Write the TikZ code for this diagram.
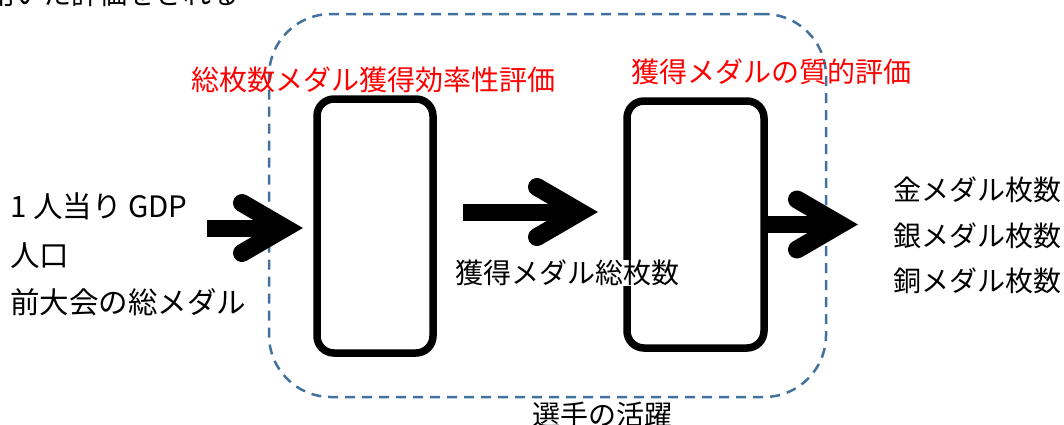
\documentclass[tikz,border=0pt]{standalone}
\usepackage{fontspec}
\setmainfont{Noto Sans CJK JP}
\usetikzlibrary{calc}
\definecolor{dashblue}{HTML}{41719C}
\tikzset{
  every node/.style={font=\fontsize{28}{32}\selectfont, inner sep=0pt},
  inlabel/.style={anchor=west, font=\fontsize{29.5}{32}\selectfont},
  box/.style={draw=black, line width=7.5pt, rounded corners=17pt},
  region/.style={draw=dashblue, line width=2.5pt, dash pattern=on 10pt off 7pt, rounded corners=62pt},
  redlabel/.style={text=red},
  shaft/.style={line width=17pt},
  head/.style={line width=18pt, line cap=round, line join=miter, miter limit=10},
}
\newcommand\fatarrow[2]{%
  \draw[shaft] (#1) -- ($(#2)+(-30,0)$);
  \draw[head] ($(#2)+(-61,-25)$) -- ($(#2)+(-18,0)$) -- ($(#2)+(-61,25)$);
}
\begin{document}
\begin{tikzpicture}[x=1pt,y=-1pt]
\useasboundingbox (0,0) rectangle (1064,424);
\clip (0,0) rectangle (1064,424);
% partially visible heading
\node[anchor=base west] (toptext) at (-13,4) {用いた評価をされる};
% dashed region
\node[region, minimum width=557pt, minimum height=383pt] (reg) at (547.5,205.5) {};
% boxes
\node[box, minimum width=116pt, minimum height=254pt] (b1) at (375,226) {};
\node[box, minimum width=137pt, minimum height=247pt] (b2) at (695.5,224.5) {};
% red labels
\node[redlabel] (l1) at (373,80) {総枚数メダル獲得効率性評価};
\node[redlabel] (l2) at (771,72) {獲得メダルの質的評価};
% inputs
\node[inlabel] (gdp) at (10,206) {1 人当り GDP};
\node[inlabel] (pop) at (10,256) {人口};
\node[inlabel] (prev) at (10,302) {前大会の総メダル};
% middle label
\node[anchor=west, fill=white] (total) at (455,273) {獲得メダル総枚数};
% outputs
\node[anchor=west] (gold) at (893,190) {金メダル枚数};
\node[anchor=west] (silver) at (893,236) {銀メダル枚数};
\node[anchor=west] (bronze) at (893,281) {銅メダル枚数};
% bottom label
\node (act) at (602,415) {選手の活躍};
% arrows
\coordinate (s1) at (207,228);
\coordinate (t1) at (303,228);
\coordinate (s2) at (463,212);
\coordinate (t2) at (598,212);
\coordinate (t3) at (858,224.5);
\fatarrow{s1}{t1}
\fatarrow{s2}{t2}
\fatarrow{b2.east}{t3}
\end{tikzpicture}
\end{document}
